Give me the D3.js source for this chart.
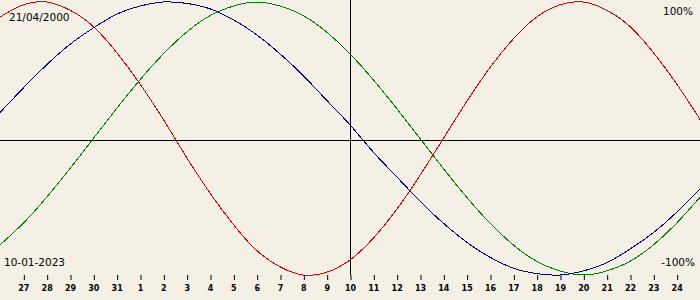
<!DOCTYPE html>
<html>
<head>
<meta charset="utf-8">
<script src="https://cdn.jsdelivr.net/npm/d3@7"></script>
<style>
    body { margin: 0; background: #f4f0e5; }
    svg { display: block; background: #f4f0e5; }
    text { font-family: "DejaVu Sans", sans-serif; fill: #000; }
</style>
</head>
<body>
<div id="chart"></div>
<script>
// day labels under the chart (26 Dec .. 25 Jan, first and last are off the ticks)
const days = [26, 27, 28, 29, 30, 31, 1, 2, 3, 4, 5, 6, 7, 8, 9, 10,
    11, 12, 13, 14, 15, 16, 17, 18, 19, 20, 21, 22, 23, 24, 25];

// values in percent, one per day
const physical = [89, 98, 100, 94, 82, 63, 40, 14, -14, -40, -63, -82, -94, -100, -98, -89,
    -73, -52, -27, 0, 27, 52, 73, 89, 98, 100, 94, 82, 63, 40, 14];
const emotional = [-78, -62, -43, -22, 0, 22, 43, 62, 78, 90, 97, 100, 97, 90, 78, 62,
    43, 22, 0, -22, -43, -62, -78, -90, -97, -100, -97, -90, -78, -62, -43];
const intellectual = [19, 37, 54, 69, 81, 91, 97, 100, 99, 95, 87, 76, 62, 46, 28, 10,
    -10, -28, -46, -62, -76, -87, -95, -99, -100, -97, -91, -81, -69, -54, -37];

const birthDate = "21/04/2000";
const currentDate = "10-01-2023";
const todayIndex = 15;

const colors = {
    physical: "#e00000",
    emotional: "#008000",
    intellectual: "#000090"
};

const width = 700, height = 300;

const svg = d3.select("#chart").append("svg")
    .attr("width", width)
    .attr("height", height);

const x = d3.scaleLinear().domain([0, days.length - 1]).range([0, width]);
const y = d3.scaleLinear().domain([-100, 100]).range([275, 2]);

// cross lines
svg.append("line")
    .attr("x1", 0).attr("x2", width)
    .attr("y1", Math.round(y(0)) + 1.5).attr("y2", Math.round(y(0)) + 1.5)
    .attr("stroke", "#000");
svg.append("line")
    .attr("x1", x(todayIndex) + 0.5).attr("x2", x(todayIndex) + 0.5)
    .attr("y1", 0).attr("y2", y(-100))
    .attr("stroke", "#000");

// curves
const line = d3.line()
    .x((d, i) => x(i))
    .y(d => y(d))
    .curve(d3.curveNatural);

[["physical", physical], ["emotional", emotional], ["intellectual", intellectual]]
    .forEach(([name, data]) => {
        svg.append("path")
            .datum(data)
            .attr("fill", "none")
            .attr("stroke", colors[name])
            .attr("stroke-width", 1)
            .attr("shape-rendering", "crispEdges")
            .attr("d", line);
    });

// day axis
const axis = d3.axisBottom(x)
    .tickValues(d3.range(1, days.length - 1))
    .tickSize(5)
    .tickPadding(5)
    .tickFormat(i => days[i]);

const g = svg.append("g")
    .attr("transform", "translate(0,275)")
    .call(axis);
g.select(".domain").remove();
g.selectAll(".tick line").attr("stroke", "#000").attr("transform", "translate(0.5,0)");
g.selectAll(".tick text")
    .style("font-family", "DejaVu Sans, sans-serif")
    .style("font-size", "8px")
    .style("font-weight", "bold")
    .attr("fill", "#000");

// corner labels
svg.append("text").attr("x", 9).attr("y", 21)
    .style("font-size", "10.5px").text(birthDate);
svg.append("text").attr("x", 4).attr("y", 266)
    .style("font-size", "10.5px").text(currentDate);
svg.append("text").attr("x", 693).attr("y", 15)
    .attr("text-anchor", "end")
    .style("font-size", "10.5px").text("100%");
svg.append("text").attr("x", 695).attr("y", 266)
    .attr("text-anchor", "end")
    .style("font-size", "10.5px").text("-100%");
</script>
</body>
</html>
